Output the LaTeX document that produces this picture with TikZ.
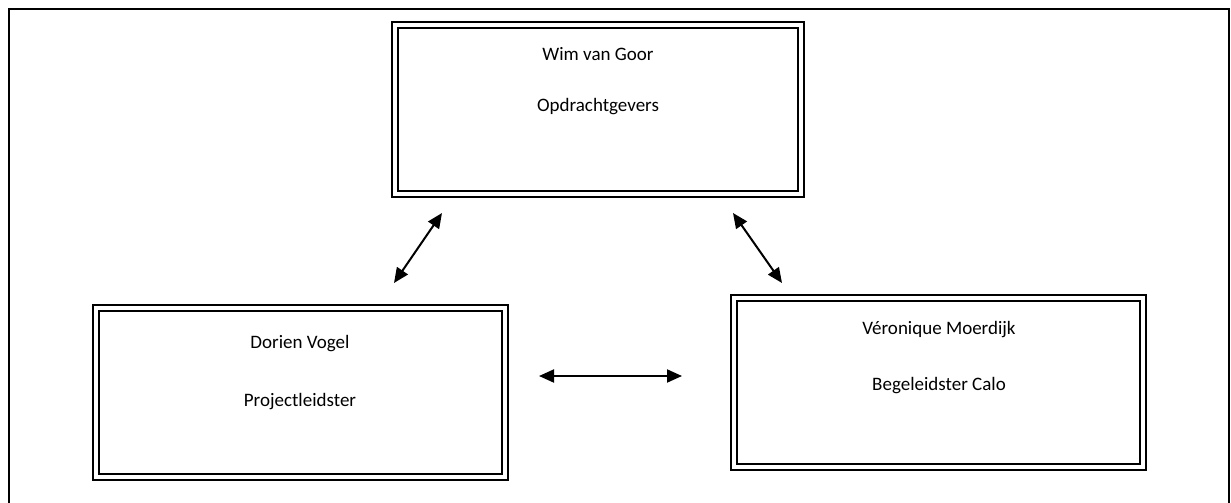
\documentclass[tikz,border=0pt]{standalone}
\usepackage{fontspec}
\setmainfont{Carlito}
\usetikzlibrary{arrows.meta}
\tikzset{
  box/.style={draw=black, line width=2.3pt, double=white, double distance=3.2pt, rectangle, inner sep=0pt, fill=none},
  lbl/.style={font=\fontsize{19}{23}\selectfont, inner sep=0pt, anchor=center},
  conn/.style={line width=2pt, {Triangle[length=15pt,width=13pt]}-{Triangle[length=15pt,width=13pt]}},
  frame/.style={line width=2.5pt, draw=black}
}
\begin{document}
\begin{tikzpicture}[x=1pt,y=-1pt]
\useasboundingbox (0,0) rectangle (1231,503);
\coordinate (fbl) at (9,503);
\coordinate (ftl) at (9,9);
\coordinate (ftr) at (1229,9);
\coordinate (fbr) at (1229,503);
\draw[frame] (fbl) -- (ftl) -- (ftr) -- (fbr);

\node[box, minimum width=406pt, minimum height=169pt] (top) at (598,109.5) {};
\node[box, minimum width=409pt, minimum height=169pt] (left) at (300.5,392.5) {};
\node[box, minimum width=409pt, minimum height=169pt] (right) at (938.5,382.5) {};

\node[lbl] (t1) at (598,54) {Wim van Goor};
\node[lbl] (t2) at (598,107) {Opdrachtgevers};
\node[lbl] (l1) at (300,344) {Dorien Vogel};
\node[lbl] (l2) at (300,402) {Projectleidster};
\node[lbl] (r1) at (939,330) {Véronique Moerdijk};
\node[lbl] (r2) at (939,386) {Begeleidster Calo};

\coordinate (a1s) at (442,213);
\coordinate (a1e) at (394,283);
\coordinate (a2s) at (733,213);
\coordinate (a2e) at (782,283);
\coordinate (a3s) at (539,376);
\coordinate (a3e) at (682,376);
\draw[conn] (a1s) -- (a1e);
\draw[conn] (a2s) -- (a2e);
\draw[conn] (a3s) -- (a3e);
\end{tikzpicture}
\end{document}
